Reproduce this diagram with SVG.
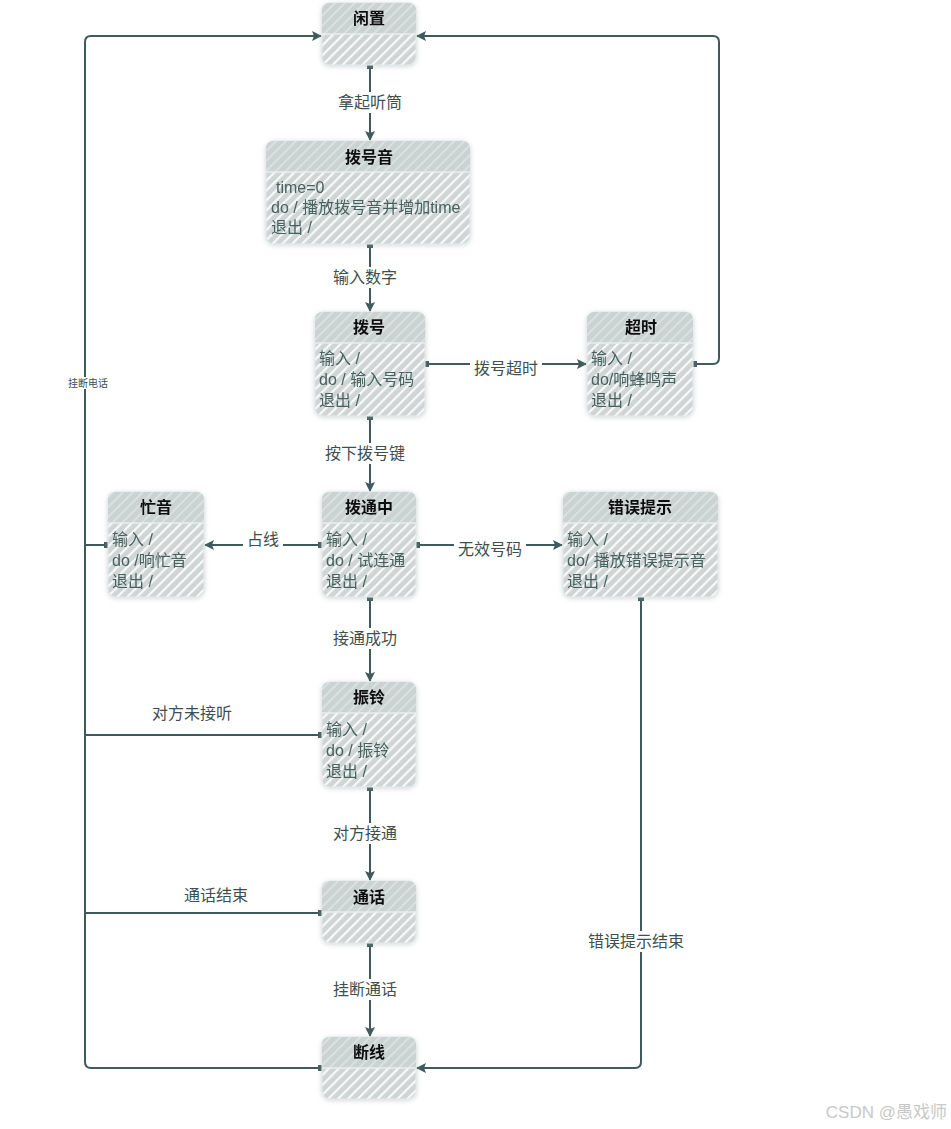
<svg xmlns="http://www.w3.org/2000/svg" width="951" height="1129" viewBox="0 0 951 1129">
<style>
.bg{fill:#ffffff}
.body{fill:url(#hatch);stroke:#e4e8e8;stroke-width:1}
.head{fill:url(#hatchH)}
.div{stroke:#e8ecec;stroke-width:1.5}
.title{font-family:"Noto Sans CJK SC","Liberation Sans",sans-serif;font-size:16px;font-weight:bold;fill:#111;text-anchor:middle}
.txt{font-family:"Liberation Sans","Noto Sans CJK SC",sans-serif;font-size:16px;fill:#47625f}
.lbl{font-family:"Liberation Sans","Noto Sans CJK SC",sans-serif;font-size:16px;fill:#3d4f50;text-anchor:middle}
.lblbg{fill:#ffffff}
.edge{fill:none;stroke:#3e5a5d;stroke-width:2;marker-start:url(#sq);marker-end:url(#arr)}
</style>
<defs>
<pattern id="hatch" patternUnits="userSpaceOnUse" width="7" height="7" patternTransform="rotate(45)">
<rect width="7" height="7" fill="#cfd5d5"/>
<rect x="0" y="0" width="2.2" height="7" fill="#ffffff" opacity="0.85"/>
</pattern>
<pattern id="hatchH" patternUnits="userSpaceOnUse" width="7" height="7" patternTransform="rotate(45)">
<rect width="7" height="7" fill="#cbd2d2"/>
<rect x="0" y="0" width="2" height="7" fill="#ffffff" opacity="0.3"/>
</pattern>
<filter id="sh" x="-20%" y="-20%" width="140%" height="140%">
<feDropShadow dx="0" dy="1" stdDeviation="2.5" flood-color="#9aa8a8" flood-opacity="0.45"/>
</filter>
<marker id="arr" viewBox="0 0 10 10" refX="9" refY="5" markerWidth="5" markerHeight="5" orient="auto" markerUnits="strokeWidth">
<path d="M0,0 L10,5 L0,10 L2,5 Z" fill="#3e5a5d"/>
</marker>
<marker id="sq" viewBox="0 0 10 10" refX="5" refY="5" markerWidth="3" markerHeight="3" orient="auto" markerUnits="strokeWidth">
<rect width="10" height="10" fill="#3e5a5d"/>
</marker>
</defs>
<rect class="bg" width="951" height="1129"/>

<g id="connectors">
<path class="edge" d="M370,66 V140"/>
<path class="edge" d="M370,245 V311"/>
<path class="edge" d="M426,364 H586"/>
<path class="edge" d="M694,364 H713 Q719,364 719,358 V42 Q719,36 713,36 H417"/>
<path class="edge" d="M370,417 V491"/>
<path class="edge" d="M321,545 H205"/>
<path class="edge" d="M417,545 H562"/>
<path class="edge" d="M370,598 V681"/>
<path class="edge" d="M370,788 V880"/>
<path class="edge" d="M370,944 V1036"/>
<path class="edge" d="M641,598 V1062 Q641,1068 635,1068 H417"/>
<path class="edge" d="M107,545 H85 V42 Q85,36 91,36 H321"/>
<path class="edge" style="marker-end:none" d="M321,735 H85"/>
<path class="edge" style="marker-end:none" d="M321,913 H85"/>
<path class="edge" style="marker-end:none" d="M321,1068 H91 Q85,1068 85,1062 V545"/>
<rect class="lblbg" x="330" y="92" width="80" height="21"/>
<text class="lbl" x="370" y="108">拿起听筒</text>
<rect class="lblbg" x="330" y="267" width="80" height="21"/>
<text class="lbl" x="365" y="283">输入数字</text>
<rect class="lblbg" x="470" y="353" width="72" height="21"/>
<text class="lbl" x="506" y="374">拨号超时</text>
<rect class="lblbg" x="322" y="443" width="86" height="21"/>
<text class="lbl" x="365" y="459">按下拨号键</text>
<rect class="lblbg" x="243" y="529" width="40" height="21"/>
<text class="lbl" x="263" y="545">占线</text>
<rect class="lblbg" x="454" y="540" width="72" height="12"/>
<text class="lbl" x="490" y="555">无效号码</text>
<rect class="lblbg" x="330" y="628" width="80" height="21"/>
<text class="lbl" x="365" y="644">接通成功</text>
<text class="lbl" x="192" y="719">对方未接听</text>
<rect class="lblbg" x="330" y="823" width="80" height="21"/>
<text class="lbl" x="365" y="839">对方接通</text>
<text class="lbl" x="216" y="901">通话结束</text>
<rect class="lblbg" x="330" y="979" width="80" height="21"/>
<text class="lbl" x="365" y="995">挂断通话</text>
<rect class="lblbg" x="586" y="931" width="102" height="21"/>
<text class="lbl" x="636" y="947">错误提示结束</text>
<rect class="lblbg" x="66" y="377" width="44" height="12"/>
<text class="lbl" x="88" y="387" style="font-size:10px">挂断电话</text>
</g>

<g id="n-idle" filter="url(#sh)">
<rect class="body" x="322" y="3" width="94" height="62" rx="8"/>
<path class="head" d="M322,34 V11 Q322,3 330,3 H408 Q416,3 416,11 V34 Z"/>
<line class="div" x1="322" y1="34" x2="416" y2="34"/>
<text class="title" x="369" y="24">闲置</text>
</g>

<g id="n-dialtone" filter="url(#sh)">
<rect class="body" x="266" y="141" width="204" height="103" rx="8"/>
<path class="head" d="M266,172 V149 Q266,141 274,141 H462 Q470,141 470,149 V172 Z"/>
<line class="div" x1="266" y1="172" x2="470" y2="172"/>
<text class="title" x="369" y="163">拨号音</text>
<text class="txt" x="276" y="193">time=0</text>
<text class="txt" x="271" y="213">do / 播放拨号音并增加time</text>
<text class="txt" x="271" y="233">退出 /</text>
</g>

<g id="n-dial" filter="url(#sh)">
<rect class="body" x="315" y="312" width="110" height="104" rx="8"/>
<path class="head" d="M315,343 V320 Q315,312 323,312 H417 Q425,312 425,320 V343 Z"/>
<line class="div" x1="315" y1="343" x2="425" y2="343"/>
<text class="title" x="369" y="333">拨号</text>
<text class="txt" x="319" y="364">输入 /</text>
<text class="txt" x="319" y="385">do / 输入号码</text>
<text class="txt" x="319" y="406">退出 /</text>
</g>

<g id="n-timeout" filter="url(#sh)">
<rect class="body" x="587" y="312" width="106" height="104" rx="8"/>
<path class="head" d="M587,343 V320 Q587,312 595,312 H685 Q693,312 693,320 V343 Z"/>
<line class="div" x1="587" y1="343" x2="693" y2="343"/>
<text class="title" x="641" y="333">超时</text>
<text class="txt" x="591" y="364">输入 /</text>
<text class="txt" x="591" y="385">do/响蜂鸣声</text>
<text class="txt" x="591" y="406">退出 /</text>
</g>

<g id="n-busy" filter="url(#sh)">
<rect class="body" x="108" y="492" width="96" height="105" rx="8"/>
<path class="head" d="M108,523 V500 Q108,492 116,492 H196 Q204,492 204,500 V523 Z"/>
<line class="div" x1="108" y1="523" x2="204" y2="523"/>
<text class="title" x="156" y="513">忙音</text>
<text class="txt" x="112" y="545">输入 /</text>
<text class="txt" x="112" y="566">do /响忙音</text>
<text class="txt" x="112" y="587">退出 /</text>
</g>

<g id="n-connecting" filter="url(#sh)">
<rect class="body" x="322" y="492" width="94" height="105" rx="8"/>
<path class="head" d="M322,523 V500 Q322,492 330,492 H408 Q416,492 416,500 V523 Z"/>
<line class="div" x1="322" y1="523" x2="416" y2="523"/>
<text class="title" x="369" y="513">拨通中</text>
<text class="txt" x="326" y="545">输入 /</text>
<text class="txt" x="326" y="566">do / 试连通</text>
<text class="txt" x="326" y="587">退出 /</text>
</g>

<g id="n-error" filter="url(#sh)">
<rect class="body" x="563" y="492" width="155" height="105" rx="8"/>
<path class="head" d="M563,523 V500 Q563,492 571,492 H710 Q718,492 718,500 V523 Z"/>
<line class="div" x1="563" y1="523" x2="718" y2="523"/>
<text class="title" x="640" y="513">错误提示</text>
<text class="txt" x="567" y="545">输入 /</text>
<text class="txt" x="567" y="566">do/ 播放错误提示音</text>
<text class="txt" x="567" y="587">退出 /</text>
</g>

<g id="n-ringing" filter="url(#sh)">
<rect class="body" x="322" y="682" width="94" height="105" rx="8"/>
<path class="head" d="M322,713 V690 Q322,682 330,682 H408 Q416,682 416,690 V713 Z"/>
<line class="div" x1="322" y1="713" x2="416" y2="713"/>
<text class="title" x="369" y="703">振铃</text>
<text class="txt" x="326" y="735">输入 /</text>
<text class="txt" x="326" y="756">do / 振铃</text>
<text class="txt" x="326" y="777">退出 /</text>
</g>

<g id="n-talk" filter="url(#sh)">
<rect class="body" x="322" y="881" width="94" height="62" rx="8"/>
<path class="head" d="M322,912 V889 Q322,881 330,881 H408 Q416,881 416,889 V912 Z"/>
<line class="div" x1="322" y1="912" x2="416" y2="912"/>
<text class="title" x="369" y="903">通话</text>
</g>

<g id="n-disconnect" filter="url(#sh)">
<rect class="body" x="322" y="1037" width="94" height="62" rx="8"/>
<path class="head" d="M322,1068 V1045 Q322,1037 330,1037 H408 Q416,1037 416,1045 V1068 Z"/>
<line class="div" x1="322" y1="1068" x2="416" y2="1068"/>
<text class="title" x="369" y="1058">断线</text>
</g>

<text x="947" y="1118" style="font-family:'Liberation Sans','Noto Sans CJK SC',sans-serif;font-size:17px;fill:#c8c8c8;text-anchor:end">CSDN @愚戏师</text>
</svg>
